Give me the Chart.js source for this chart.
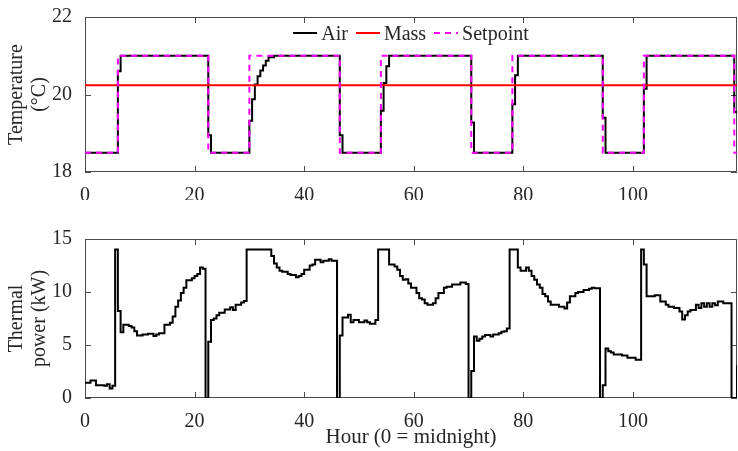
<!DOCTYPE html>
<html>
<head>
<meta charset="utf-8">
<script src="https://cdn.jsdelivr.net/npm/chart.js@4/dist/chart.umd.min.js"></script>
<style>
  html, body { margin: 0; padding: 0; background: #fff; }
  body { width: 738px; height: 451px; position: relative; overflow: hidden; font-family: "Liberation Serif", serif; }
  #top { position: absolute; left: 0; top: 0; }
  #bot { position: absolute; left: 0; top: 200px; }
  #legend { position: absolute; left: 85px; width: 652px; top: 21px; height: 24px;
            display: flex; justify-content: center; align-items: center; font-size: 20px; color: #262626; }
  #legend .item { display: flex; align-items: center; margin: 0 4px; }
  #legend svg { margin-right: 4px; }
</style>
</head>
<body>
<canvas id="top" width="738" height="200"></canvas>
<canvas id="bot" width="738" height="251"></canvas>
<div id="legend"></div>
<script>
// ---------- data ----------
const hourTicks = [0, 20, 40, 60, 80, 100];
const tempTicks = [18, 20, 22];
const powerTicks = [0, 5, 10, 15];

// step change points: value holds from the given hour until the next one
const airHours = [0, 6, 6.5, 22.5, 23, 30, 30.5, 31, 31.5, 32, 32.5, 33, 33.5, 34.5, 46.5, 47, 54, 54.5, 55, 55.5, 70.5, 71, 78, 78.5, 79, 94.5, 95, 102, 102.5, 118.5, 119];
const airTemp  = [18.5, 20.6, 21, 18.95, 18.5, 19.32, 19.88, 20.26, 20.47, 20.62, 20.75, 20.87, 20.96, 21, 18.95, 18.5, 19.58, 20.3, 20.73, 21, 19.28, 18.5, 19.75, 20.5, 21, 19.4, 18.5, 20.15, 21, 19.55, 19.55];

const massHours = [0, 119];
const massTemp  = [20.24, 20.24];

const setHours = [0, 6, 22.5, 30, 46.5, 54, 70.5, 78, 94.5, 102, 118.5, 119];
const setTemp  = [18.5, 21, 18.5, 21, 18.5, 21, 18.5, 21, 18.5, 21, 18.5, 18.5];

const powerHours = [
  0, 1, 2, 3.5, 4, 4.5, 5, 5.5, 6, 6.5, 7, 8, 8.5, 9, 9.5, 10.5, 11.5, 12.5, 13, 13.5, 14.5, 15.5, 16, 16.5, 17, 17.5, 18, 18.5, 19.5, 20, 20.5, 21, 21.5,
  22, 22.5, 23, 23.5, 24, 24.5, 25.5, 26.5, 27, 27.5, 28.5, 29, 29.5,
  34, 34.5, 35, 35.5, 36, 37, 37.5, 38.5, 39, 39.5, 40, 41, 41.5, 42, 43, 43.5, 44.5, 45,
  46, 46.5, 47, 48, 48.5, 49, 50, 51, 51.5, 52, 53, 53.5,
  55.5, 56.5, 57, 57.5, 58, 58.5, 59, 59.5, 60.5, 61, 61.5, 62, 62.5, 63.5, 64, 64.5, 65.5, 66, 67, 68.5, 69.5,
  70, 70.5, 71, 71.5, 72, 72.5, 73, 74, 74.5, 75.5, 76, 76.5, 77, 77.5,
  79, 79.5, 80.5, 81, 81.5, 82, 82.5, 83, 83.5, 84, 84.5, 85, 86.5, 87.5, 88, 88.5, 89.5, 90, 91, 92, 92.5, 93,
  94, 94.5, 95, 95.5, 96, 96.5, 98, 99, 100.5, 101.5,
  102, 102.5, 104, 105, 106, 106.5, 107.5, 108.5, 109, 109.5, 110, 110.5, 111.5, 112, 112.5, 113, 113.5, 114, 114.5, 115, 115.5, 116.5,
  118, 119
];
const powerKW = [
  1.45, 1.65, 1.2, 1.15, 1.3, 0.9, 1.15, 14, 8.2, 6.2, 6.9, 6.8, 6.65, 6.3, 5.9, 6.0, 6.05, 5.85, 6.0, 6.1, 6.9, 7.1, 7.7, 8.6, 9.2, 9.9, 10.4, 11.1, 11.3, 11.5, 11.7, 12.3, 12.2,
  0, 5.3, 7.35, 7.5, 7.8, 8.05, 8.35, 8.55, 8.3, 8.8, 9.0, 9.15, 14,
  13.4, 12.7, 12.3, 12.0, 11.9, 11.7, 11.6, 11.4, 11.5, 11.7, 12.1, 12.5, 12.6, 13.05, 12.8, 12.95, 13.1, 12.95,
  0, 5.9, 7.6, 7.85, 7.15, 7.35, 7.15, 7.3, 7.15, 7.0, 7.35, 14,
  12.6, 12.4, 12.1, 11.5, 11.15, 11.2, 10.8, 10.4, 9.9, 9.4, 9.3, 8.95, 8.8, 8.95, 9.4, 9.9, 10.4, 10.5, 10.7, 10.9, 10.75,
  0, 2.55, 5.8, 5.4, 5.6, 5.8, 5.95, 5.8, 6.0, 6.1, 6.25, 6.3, 6.55, 14,
  12.3, 12.0, 12.3, 12.0, 11.5, 11.15, 10.7, 10.4, 9.8, 9.6, 9.1, 8.8, 8.6, 8.45, 9.0, 9.6, 9.9, 10.0, 10.2, 10.3, 10.4, 10.35,
  0, 1.2, 4.67, 4.4, 4.3, 4.1, 4.0, 3.8, 3.6, 14,
  12.6, 9.6, 9.7, 9.1, 8.8, 8.6, 8.5, 8.15, 7.4, 7.8, 8.15, 8.3, 8.8, 8.5, 8.95, 8.6, 8.95, 8.6, 8.95, 8.75, 9.1, 8.95,
  0, 3.1
];

// ---------- helpers ----------
const pts = (xs, ys) => xs.map((x, i) => ({ x: x, y: ys[i] }));
const FONT = '"Liberation Serif", "Times New Roman", serif';
const TXT = '#262626';
Chart.defaults.font.family = FONT;
Chart.defaults.color = TXT;

const boxPlugin = {
  id: 'matlabBox',
  beforeDatasetsDraw(chart) {
    const { ctx, chartArea: a, scales } = chart;
    const x = scales.x, y = scales.y;
    ctx.save();
    ctx.strokeStyle = '#4a4a4a';
    ctx.lineWidth = 1;
    ctx.beginPath();
    ctx.rect(a.left + 0.5, a.top + 0.5, a.right - a.left - 1, a.bottom - a.top - 1);
    const L = 6;
    x.ticks.forEach(t => {
      const px = Math.round(x.getPixelForValue(t.value)) + 0.5;
      ctx.moveTo(px, a.bottom); ctx.lineTo(px, a.bottom - L);
      ctx.moveTo(px, a.top); ctx.lineTo(px, a.top + L);
    });
    y.ticks.forEach(t => {
      const py = Math.round(y.getPixelForValue(t.value)) + 0.5;
      ctx.moveTo(a.left, py); ctx.lineTo(a.left + L, py);
      ctx.moveTo(a.right, py); ctx.lineTo(a.right - L, py);
    });
    ctx.stroke();
    ctx.restore();
  }
};

function xScale(height, title) {
  return {
    type: 'linear', min: 0, max: 119,
    afterBuildTicks: s => { s.ticks = hourTicks.map(v => ({ value: v })); },
    afterFit: s => { s.height = height; },
    grid: { display: false }, border: { display: false },
    ticks: { padding: 4, font: { size: 20 }, color: TXT, maxRotation: 0 },
    title: title ? { display: true, text: title, font: { size: 21, lineHeight: 1.15 }, color: TXT, padding: { top: 0, bottom: 1 } } : { display: false }
  };
}
function yScale(min, max, ticks, title) {
  return {
    type: 'linear', min: min, max: max,
    afterBuildTicks: s => { s.ticks = ticks.map(v => ({ value: v })); },
    afterFit: s => { s.width = 85; },
    grid: { display: false }, border: { display: false },
    ticks: { padding: 5, font: { size: 20 }, color: TXT },
    title: { display: true, text: title, font: { size: 20, lineHeight: 1.15 }, color: TXT, padding: { top: 5, bottom: 0 } }
  };
}
const lineDefaults = { stepped: 'before', pointRadius: 0, fill: false, tension: 0, borderCapStyle: 'butt' };

// order: higher values are drawn first (underneath)
const topChart = new Chart(document.getElementById('top'), {
  type: 'line',
  data: {
    datasets: [
      Object.assign({ label: 'Air', order: 3, data: pts(airHours, airTemp), borderColor: '#000000', backgroundColor: '#000000', borderWidth: 2 }, lineDefaults),
      Object.assign({ label: 'Mass', order: 2, data: pts(massHours, massTemp), borderColor: '#ff0000', backgroundColor: '#ff0000', borderWidth: 2 }, lineDefaults),
      Object.assign({ label: 'Setpoint', order: 1, data: pts(setHours, setTemp), borderColor: '#ff00ff', backgroundColor: '#ff00ff', borderWidth: 2, borderDash: [6, 5] }, lineDefaults)
    ]
  },
  options: {
    responsive: false, animation: false, devicePixelRatio: 1,
    layout: { padding: { top: 14, right: 1, left: 0, bottom: 0 } },
    plugins: { legend: { display: false }, tooltip: { enabled: false } },
    scales: { x: xScale(28, null), y: yScale(18, 22, tempTicks, ['Temperature', '(°C)']) }
  },
  plugins: [boxPlugin]
});

new Chart(document.getElementById('bot'), {
  type: 'line',
  data: {
    datasets: [
      Object.assign({ label: 'Thermal power', data: pts(powerHours, powerKW), borderColor: '#000000', backgroundColor: '#000000', borderWidth: 2 }, lineDefaults)
    ]
  },
  options: {
    responsive: false, animation: false, devicePixelRatio: 1,
    layout: { padding: { top: 39, right: 1, left: 0, bottom: 0 } },
    plugins: { legend: { display: false }, tooltip: { enabled: false } },
    scales: { x: xScale(53, 'Hour (0 = midnight)'), y: yScale(0, 15, powerTicks, ['Thermal', 'power (kW)']) }
  },
  plugins: [boxPlugin]
});

// HTML legend built from the top chart's datasets
const legend = document.getElementById('legend');
topChart.data.datasets.forEach(ds => {
  const item = document.createElement('div');
  item.className = 'item';
  const dash = ds.borderDash ? 'stroke-dasharray="6 5"' : '';
  item.innerHTML = '<svg width="24" height="4"><line x1="0" y1="2" x2="24" y2="2" stroke="' + ds.borderColor + '" stroke-width="2" ' + dash + '/></svg><span>' + ds.label + '</span>';
  legend.appendChild(item);
});
</script>
</body>
</html>
